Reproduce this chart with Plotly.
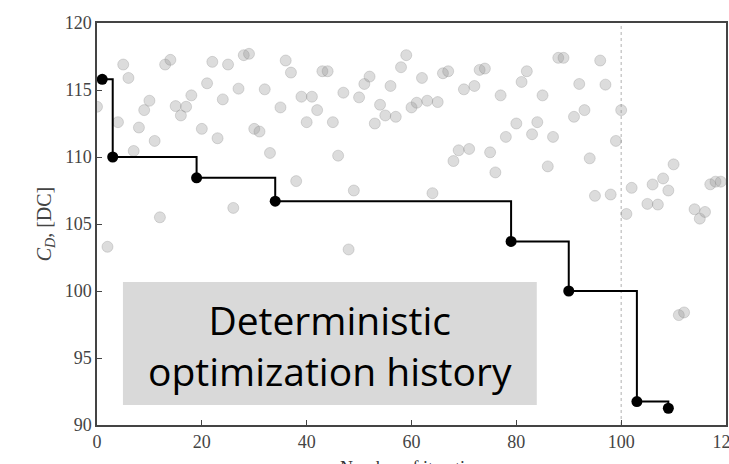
import plotly.graph_objects as go

# All evaluated designs (iteration, C_D)
iter_all = [0, 2, 4, 5, 6, 7, 8, 9, 10, 11, 12, 13, 14, 15, 16, 17, 18, 20, 21, 22,
            23, 24, 25, 26, 27, 28, 29, 30, 31, 32, 33, 35, 36, 37, 38, 39, 40, 41, 42, 43,
            44, 45, 46, 47, 48, 49, 50, 51, 52, 53, 54, 55, 56, 57, 58, 59, 60, 61, 62, 63,
            64, 65, 66, 67, 68, 69, 70, 71, 72, 73, 74, 75, 76, 77, 78, 80, 81, 82, 83, 84,
            85, 86, 87, 88, 89, 91, 92, 93, 94, 95, 96, 97, 98, 99, 100, 101, 102, 105, 106, 107,
            108, 109, 110, 111, 112, 114, 115, 116, 117, 118, 119]
cd_all = [113.75, 103.3, 112.6, 116.9, 115.9, 110.45, 112.2, 113.5, 114.2, 111.2, 105.5, 116.9, 117.25, 113.8, 113.1, 113.75, 114.6, 112.1, 115.5, 117.1,
          111.4, 114.3, 116.9, 106.2, 115.1, 117.6, 117.7, 112.1, 111.9, 115.05, 110.3, 113.7, 117.2, 116.3, 108.2, 114.5, 112.6, 114.5, 113.5, 116.4,
          116.4, 112.6, 110.1, 114.8, 103.1, 107.5, 114.45, 115.45, 116.0, 112.5, 113.9, 113.1, 115.3, 113.0, 116.7, 117.6, 113.7, 114.05, 115.9, 114.2,
          107.3, 114.1, 116.25, 116.4, 109.7, 110.5, 115.05, 110.6, 115.3, 116.5, 116.6, 110.35, 108.85, 114.6, 111.5, 112.5, 115.6, 116.4, 111.7, 112.6,
          114.6, 109.3, 111.5, 117.4, 117.4, 113.0, 115.45, 113.5, 109.9, 107.1, 117.2, 115.4, 107.2, 111.2, 113.5, 105.75, 107.7, 106.5, 107.95, 106.45,
          108.4, 107.5, 109.45, 98.2, 98.4, 106.1, 105.4, 105.9, 107.96, 108.16, 108.16]

# Best-so-far (deterministic optimization history)
iter_best = [1, 3, 19, 34, 79, 90, 103, 109]
cd_best = [115.8, 110.0, 108.45, 106.7, 103.7, 100.0, 91.75, 91.25]

x_ticks = [0, 20, 40, 60, 80, 100, 120]
y_ticks = [90, 95, 100, 105, 110, 115, 120]

serif = "Liberation Serif"
axis_col = "#444444"

fig = go.Figure()

fig.add_trace(go.Scatter(
    x=iter_all, y=cd_all, mode="markers",
    marker=dict(size=11, color="rgba(150,150,150,0.33)",
                line=dict(width=1, color="rgba(120,120,120,0.25)")),
    showlegend=False, hoverinfo="skip"))

fig.add_trace(go.Scatter(
    x=iter_best, y=cd_best, mode="lines+markers",
    line=dict(shape="hv", color="black", width=2),
    marker=dict(size=11, color="black"),
    showlegend=False))

# dotted vertical line at iteration 100
fig.add_shape(type="line", xref="x", yref="paper", x0=100, x1=100, y0=0, y1=1,
              line=dict(color="#b0b0b0", width=1, dash="dot"), layer="below")

# annotation box
fig.add_shape(type="rect", xref="x", yref="y", x0=4.95, x1=83.9, y0=91.5, y1=100.67,
              fillcolor="#d9d9d9", line=dict(width=0), layer="below")
fig.add_annotation(x=44.4, y=96.0, xref="x", yref="y",
                   text="Deterministic<br>optimization history",
                   showarrow=False, align="center",
                   font=dict(family="Open Sans", size=39, color="black"))

# x axis title (partially cut by the page border)
fig.add_annotation(x=0.5, y=-31/402, xref="paper", yref="paper", yanchor="top",
                   text="Number of iteration", showarrow=False,
                   font=dict(family=serif, size=18, color="#333333"))

fig.update_xaxes(range=[0, 120], tickvals=x_ticks, ticks="inside", ticklen=5,
                 tickcolor=axis_col, showline=True, linecolor=axis_col, linewidth=1.5,
                 mirror=True, showgrid=False, zeroline=False, automargin=False,
                 ticklabeloverflow="allow",
                 tickfont=dict(family=serif, size=18, color="#444444"))
fig.update_yaxes(range=[90, 120], tickvals=y_ticks, ticks="inside", ticklen=5,
                 tickcolor=axis_col, showline=True, linecolor=axis_col, linewidth=1.5,
                 mirror=True, showgrid=False, zeroline=False, automargin=False,
                 tickfont=dict(family=serif, size=18, color="#444444"),
                 title=dict(text="<i>C</i><sub><i>D</i></sub>, [DC]",
                            font=dict(family=serif, size=20, color="#444444"),
                            standoff=8))

fig.update_layout(width=729, height=464,
                  margin=dict(l=97, r=3, t=23, b=39),
                  plot_bgcolor="white", paper_bgcolor="white")

fig.write_html("out.html")
